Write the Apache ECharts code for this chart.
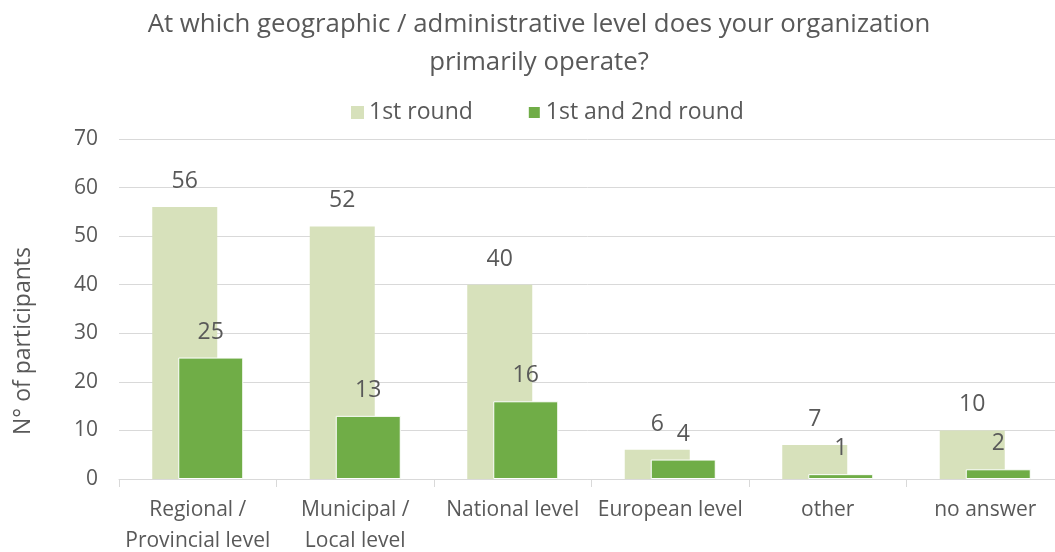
<!DOCTYPE html>
<html>
<head>
<meta charset="utf-8">
<script src="https://cdn.jsdelivr.net/npm/echarts@6/dist/echarts.min.js"></script>
<style>
  html, body { margin: 0; padding: 0; background: #ffffff; }
  #chart { width: 1055px; height: 552px; }
</style>
</head>
<body>
<div id="chart"></div>
<script>
// Survey answers per geographic / administrative level
const categories = ['Regional /\nProvincial level', 'Municipal /\nLocal level', 'National level', 'European level', 'other', 'no answer'];
const firstRound = [56, 52, 40, 6, 7, 10];
const bothRounds = [25, 13, 16, 4, 1, 2];
const yTicks = { min: 0, max: 70, interval: 10 };

const textColor = '#595959';
const font = '"Open Sans", "Noto Sans", sans-serif';

const chart = echarts.init(document.getElementById('chart'));
chart.setOption({
  animation: false,
  backgroundColor: '#ffffff',
  title: {
    text: 'At which geographic / administrative level does your organization\nprimarily operate?',
    left: 534,
    textAlign: 'center',
    top: 1,
    textStyle: { color: textColor, fontFamily: font, fontSize: 25.8, fontWeight: 'normal', lineHeight: 38 }
  },
  legend: {
    top: 96,
    left: 346,
    itemWidth: 13,
    itemHeight: 13,
    itemGap: 54,
    icon: 'rect',
    textStyle: { color: textColor, fontFamily: font, fontSize: 23 },
    data: ['1st round', '1st and 2nd round']
  },
  // rotated y-axis title, drawn as a free text element so it can sit below the plot's middle
  graphic: [{
    type: 'text',
    x: 23,
    y: 341,
    rotation: Math.PI / 2,
    style: {
      text: 'N° of participants',
      fill: textColor,
      font: '23px ' + font,
      align: 'center',
      verticalAlign: 'middle'
    }
  }],
  grid: { left: 119, right: -9, top: 139, bottom: 73, outerBoundsMode: 'none', containLabel: false },
  xAxis: {
    type: 'category',
    data: categories,
    axisLine: { lineStyle: { color: '#d9d9d9', width: 1 } },
    axisTick: { show: true, length: 8, lineStyle: { color: '#d9d9d9' } },
    axisLabel: { color: textColor, fontFamily: font, fontSize: 21, lineHeight: 31, margin: 16, interval: 0 }
  },
  yAxis: {
    type: 'value',
    min: yTicks.min,
    max: yTicks.max,
    interval: yTicks.interval,
    axisLine: { show: false },
    axisTick: { show: false },
    axisLabel: { color: textColor, fontFamily: font, fontSize: 21, margin: 21 },
    splitLine: { lineStyle: { color: '#d9d9d9', width: 1 } }
  },
  series: [
    {
      name: '1st round',
      type: 'bar',
      data: firstRound,
      barWidth: 65,
      barGap: '-60%',
      itemStyle: { color: '#d7e1bb' },
      label: { show: true, position: 'top', distance: 14, color: textColor, fontFamily: font, fontSize: 23 }
    },
    {
      name: '1st and 2nd round',
      type: 'bar',
      data: bothRounds,
      barWidth: 65,
      itemStyle: { color: '#70ad47', borderColor: '#ffffff', borderWidth: 1 },
      label: { show: true, position: 'top', distance: 14, color: textColor, fontFamily: font, fontSize: 23 }
    }
  ]
});
</script>
</body>
</html>
